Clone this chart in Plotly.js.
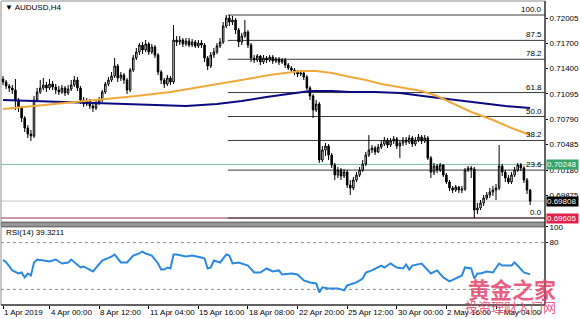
<!DOCTYPE html>
<html><head><meta charset="utf-8">
<script src="https://cdn.plot.ly/plotly-3.0.1.min.js"></script>
<style>html,body{margin:0;padding:0;background:#fff;overflow:hidden}#chart{width:580px;height:319px}</style>
</head><body><div id="chart"></div>
<script>
// ---------- DATA ----------
const symbolTitle = '\u25BC AUDUSD,H4';
const rsiTitle = 'RSI(14) 39.3211';

const open = [0.71273,0.71237,0.71189,0.71165,0.71141,0.71021,0.70925,0.70805,0.70685,0.70613,
0.70589,0.71021,0.71117,0.71165,0.71201,0.71165,0.71213,0.71177,0.71141,0.71117,
0.71165,0.71105,0.71153,0.71201,0.71261,0.71165,0.71021,0.70973,0.71009,0.70949,
0.70925,0.70985,0.71021,0.71117,0.71213,0.71261,0.71309,0.71429,0.71285,0.71321,
0.71261,0.71141,0.71381,0.71525,0.71597,0.71681,0.71621,0.71693,0.71597,0.71657,
0.71561,0.71357,0.71261,0.71213,0.71285,0.71237,0.71741,0.71717,0.71741,0.71693,
0.71729,0.71681,0.71717,0.71669,0.71705,0.71681,0.71525,0.71429,0.71561,0.71597,
0.71669,0.71717,0.71909,0.72005,0.71957,0.71981,0.71861,0.71717,0.71789,0.71837,
0.71681,0.71525,0.71501,0.71549,0.71477,0.71525,0.71501,0.71537,0.71489,0.71513,
0.71477,0.71501,0.71441,0.71405,0.71381,0.71357,0.71333,0.71345,0.71297,0.71165,
0.71069,0.70901,0.70973,0.70301,0.70421,0.70469,0.70361,0.70241,0.70121,0.70181,
0.70109,0.70157,0.70001,0.69965,0.70061,0.70121,0.70181,0.70253,0.70361,0.70421,
0.70445,0.70397,0.70457,0.70493,0.70541,0.70481,0.70529,0.70553,0.70469,0.70505,
0.70541,0.70517,0.70565,0.70493,0.70541,0.70577,0.70529,0.70565,0.70325,0.70157,
0.70229,0.70181,0.70241,0.70121,0.70037,0.69965,0.69941,0.69977,0.69941,0.69953,
0.70181,0.70205,0.70193,0.69701,0.69725,0.69785,0.69845,0.69881,0.69917,0.69941,
0.69965,0.70229,0.70157,0.70085,0.70037,0.70121,0.70181,0.70241,0.70205,0.70061,
0.69941];
const high = [0.71309,0.71261,0.71213,0.71201,0.71273,0.71045,0.70949,0.70829,0.70721,0.70661,
0.71069,0.71165,0.71261,0.71285,0.71237,0.71273,0.71249,0.71213,0.71189,0.71201,
0.71189,0.71201,0.71261,0.71309,0.71297,0.71189,0.71057,0.71045,0.71033,0.70985,
0.71021,0.71057,0.71141,0.71237,0.71297,0.71357,0.71525,0.71453,0.71357,0.71345,
0.71285,0.71405,0.71561,0.71645,0.71705,0.71717,0.71741,0.71717,0.71693,0.71681,
0.71585,0.71381,0.71285,0.71321,0.71309,0.71921,0.71789,0.71789,0.71765,0.71765,
0.71765,0.71753,0.71741,0.71741,0.71741,0.71705,0.71549,0.71597,0.71645,0.71705,
0.71765,0.71957,0.72041,0.72041,0.72029,0.72005,0.71885,0.71825,0.71981,0.71861,
0.71705,0.71561,0.71573,0.71561,0.71561,0.71549,0.71561,0.71561,0.71537,0.71537,
0.71525,0.71525,0.71465,0.71429,0.71405,0.71381,0.71381,0.71369,0.71321,0.71189,
0.71093,0.71021,0.70997,0.70469,0.70505,0.70493,0.70385,0.70265,0.70217,0.70205,
0.70193,0.70181,0.70061,0.70097,0.70157,0.70217,0.70301,0.70397,0.70601,0.70481,
0.70469,0.70493,0.70541,0.70577,0.70565,0.70565,0.70589,0.70577,0.70541,0.70577,
0.70577,0.70601,0.70589,0.70577,0.70613,0.70601,0.70601,0.70589,0.70349,0.70265,
0.70253,0.70265,0.70253,0.70145,0.70061,0.69989,0.70001,0.69989,0.69989,0.70205,
0.70229,0.70229,0.70217,0.69785,0.69821,0.69881,0.69917,0.69965,0.69989,0.70013,
0.70481,0.70253,0.70181,0.70121,0.70157,0.70217,0.70265,0.70265,0.70229,0.70085,
0.69953];
const low = [0.71201,0.71153,0.71117,0.71093,0.70901,0.70877,0.70757,0.70637,0.70565,0.70529,
0.70565,0.70997,0.71093,0.71141,0.71117,0.71141,0.71141,0.71093,0.71081,0.71093,
0.71069,0.71081,0.71129,0.71177,0.71129,0.70973,0.70937,0.70949,0.70913,0.70877,
0.70901,0.70961,0.70997,0.71093,0.71189,0.71237,0.71285,0.71237,0.71249,0.71213,
0.71093,0.71117,0.71357,0.71501,0.71561,0.71573,0.71597,0.71561,0.71573,0.71525,
0.71321,0.71213,0.71165,0.71189,0.71201,0.71213,0.71669,0.71681,0.71657,0.71669,
0.71657,0.71657,0.71645,0.71645,0.71645,0.71477,0.71381,0.71405,0.71525,0.71573,
0.71645,0.71693,0.71885,0.71909,0.71921,0.71813,0.71657,0.71681,0.71765,0.71645,
0.71477,0.71465,0.71477,0.71441,0.71453,0.71465,0.71477,0.71453,0.71465,0.71441,
0.71453,0.71405,0.71381,0.71345,0.71321,0.71297,0.71309,0.71261,0.71141,0.71021,
0.70805,0.70877,0.70265,0.70277,0.70349,0.70301,0.70205,0.70061,0.70085,0.70061,
0.70085,0.69965,0.69881,0.69941,0.70037,0.70097,0.70157,0.70229,0.70337,0.70385,
0.70361,0.70385,0.70433,0.70469,0.70445,0.70457,0.70493,0.70433,0.70325,0.70469,
0.70481,0.70493,0.70457,0.70469,0.70517,0.70493,0.70505,0.70301,0.70085,0.70121,
0.70145,0.70157,0.70097,0.70013,0.69929,0.69905,0.69917,0.69905,0.69905,0.69929,
0.70157,0.70085,0.69605,0.69653,0.69701,0.69749,0.69821,0.69845,0.69869,0.69821,
0.69941,0.70109,0.70037,0.70013,0.70013,0.70097,0.70157,0.70169,0.70025,0.69893,
0.69761];
const close = [0.71237,0.71189,0.71165,0.71141,0.71021,0.70925,0.70805,0.70685,0.70613,0.70589,
0.71021,0.71117,0.71165,0.71201,0.71165,0.71213,0.71177,0.71141,0.71117,0.71165,
0.71105,0.71153,0.71201,0.71261,0.71165,0.71021,0.70973,0.71009,0.70949,0.70925,
0.70985,0.71021,0.71117,0.71213,0.71261,0.71309,0.71429,0.71285,0.71321,0.71261,
0.71141,0.71381,0.71525,0.71597,0.71681,0.71621,0.71693,0.71597,0.71657,0.71561,
0.71357,0.71261,0.71213,0.71285,0.71237,0.71741,0.71717,0.71741,0.71693,0.71729,
0.71681,0.71717,0.71669,0.71705,0.71681,0.71525,0.71429,0.71561,0.71597,0.71669,
0.71717,0.71909,0.72005,0.71957,0.71981,0.71861,0.71717,0.71789,0.71837,0.71681,
0.71525,0.71501,0.71549,0.71477,0.71525,0.71501,0.71537,0.71489,0.71513,0.71477,
0.71501,0.71441,0.71405,0.71381,0.71357,0.71333,0.71345,0.71297,0.71165,0.71069,
0.70901,0.70973,0.70301,0.70421,0.70469,0.70361,0.70241,0.70121,0.70181,0.70109,
0.70157,0.70001,0.69965,0.70061,0.70121,0.70181,0.70253,0.70361,0.70421,0.70445,
0.70397,0.70457,0.70493,0.70541,0.70481,0.70529,0.70553,0.70469,0.70505,0.70541,
0.70517,0.70565,0.70493,0.70541,0.70577,0.70529,0.70565,0.70325,0.70157,0.70229,
0.70181,0.70241,0.70121,0.70037,0.69965,0.69941,0.69977,0.69941,0.69953,0.70181,
0.70205,0.70193,0.69701,0.69725,0.69785,0.69845,0.69881,0.69917,0.69941,0.69965,
0.70229,0.70157,0.70085,0.70037,0.70121,0.70181,0.70241,0.70205,0.70061,0.69941,
0.69808];

// moving averages (sampled bars)
const maFastBar = [0,10,20,31,43,54,64,75,86,96,101,106,112,117,122,130,135,140,144,151,158,164,170];
const maFast = [0.70913,0.70949,0.70985,0.71033,0.71069,0.71117,0.71177,0.71249,0.71321,0.71369,0.71369,0.71345,0.71297,0.71261,0.71213,0.71165,0.71129,0.71069,0.70997,0.70877,0.70781,0.70685,0.70601];
const maSlowBar = [0,10,26,43,59,69,77,85,92,99,106,112,120,128,138,146,154,162,170];
const maSlow = [0.71021,0.71009,0.70985,0.70973,0.70949,0.70973,0.71009,0.71057,0.71093,0.71129,0.71129,0.71117,0.71117,0.71105,0.71057,0.71021,0.70985,0.70949,0.70925];

// RSI(14)
const rsiBar = [0,1,3,5,6,7,8,9,10,11,13,15,17,19,21,22,25,26,29,30,32,35,36,38,40,42,43,45,46,48,50,51,52,53,54,55,56,59,61,64,65,66,67,68,70,72,73,74,76,79,81,83,85,87,89,90,93,95,97,99,101,102,103,105,108,110,111,114,116,117,119,122,123,125,127,129,130,131,132,135,137,138,140,142,144,146,148,149,151,152,153,154,156,158,160,161,164,165,167,168,170];
const rsiValue = [57.9,54.9,44.3,40.4,41.7,35.3,40.4,37.9,54.5,58.3,57.0,55.7,58.3,53.2,54.5,58.3,48.1,49.4,43.0,48.1,57.0,62.1,64.7,54.5,54.5,63.4,64.7,68.5,66.0,63.4,53.2,45.5,45.5,48.1,46.8,64.7,64.7,62.1,63.4,60.9,59.6,46.8,48.1,57.0,54.5,64.7,63.4,53.2,54.5,50.6,41.7,41.7,46.8,43.0,44.3,39.1,40.4,39.1,31.5,28.9,27.7,16.2,22.6,21.3,21.3,18.7,25.1,28.9,34.0,41.7,44.3,50.6,48.1,53.2,48.1,46.8,51.9,45.5,50.6,53.2,44.3,40.4,44.3,35.3,30.2,34.0,37.9,48.1,46.8,34.0,40.4,40.4,43.0,41.7,53.2,50.6,50.6,54.5,46.8,41.7,39.3];
const rsiLevels = [80, 20];

// Fibonacci retracement
const fibHigh = 0.72041, fibLow = 0.69605;
const fibLevels = [100, 87.5, 78.2, 61.8, 50.0, 38.2, 23.6, 0.0];
const fibStartBar = 72.5;

// horizontal price lines / right-axis marker boxes
const markerPrices = [0.70248, 0.69808, 0.69605];
const markerLabels = ['0.70248', '0.69808', '0.69605'];

// axis ticks
const priceTicks = [0.72005,0.71700,0.71400,0.71095,0.70790,0.70485,0.70180,0.69875];
const priceTickText = ['0.72005','0.71700','0.71400','0.71095','0.70790','0.70485','0.70180','0.69875'];
const timeTickBars = [0,15,31,47,63,79,95,111,127,143,159];
const timeTickText = ['1 Apr 2019','4 Apr 00:00','8 Apr 12:00','11 Apr 04:00','15 Apr 16:00','18 Apr 08:00','22 Apr 20:00','25 Apr 12:00','30 Apr 00:00','2 May 16:00','7 May 04:00'];
const rsiTicks = [100, 80];

// ---------- STYLE / LAYOUT ----------
const bars = open.map((_, i) => i);
const FONT = 'Liberation Sans, Arial, sans-serif';
const xRange = [-0.65, 174.8];
const mainDomain = [0.2730, 1];
const rsiDomain = [0, 0.2566];

const traces = [
  {type:'candlestick', x:bars, open:open, high:high, low:low, close:close, xaxis:'x', yaxis:'y',
   increasing:{line:{color:'#000000', width:1}, fillcolor:'#ffffff'},
   decreasing:{line:{color:'#000000', width:1}, fillcolor:'#000000'},
   whiskerwidth:0, hoverinfo:'skip', showlegend:false},
  {type:'scatter', mode:'lines', x:maSlowBar, y:maSlow, xaxis:'x', yaxis:'y', line:{color:'#0a0a82', width:2}, hoverinfo:'skip'},
  {type:'scatter', mode:'lines', x:maFastBar, y:maFast, xaxis:'x', yaxis:'y', line:{color:'#f2a93b', width:2}, hoverinfo:'skip'},
  {type:'scatter', mode:'lines', x:rsiBar, y:rsiValue, xaxis:'x', yaxis:'y2', line:{color:'#2b8ae0', width:2}, hoverinfo:'skip'}
];

const shapes = [];
fibLevels.forEach(l => {
  const p = fibLow + (fibHigh - fibLow) * l / 100;
  shapes.push({type:'line', xref:'x', yref:'y', x0:fibStartBar, x1:xRange[1], y0:p, y1:p, line:{color:'#3a3a3a', width:1}, layer:'below'});
});
const markerLineColors = ['#7cbf9e', '#c4c4c4', '#9c2f55'];
markerPrices.forEach((p, k) => {
  shapes.push({type:'line', xref:'paper', yref:'y', x0:0, x1:1, y0:p, y1:p, line:{color:markerLineColors[k], width:1}, layer:'below'});
});
rsiLevels.forEach(v => {
  shapes.push({type:'line', xref:'paper', yref:'y2', x0:0, x1:1, y0:v, y1:v, line:{color:'#909090', width:1, dash:'dot'}, layer:'below'});
});
shapes.push({type:'rect', xref:'paper', yref:'paper', x0:0, x1:1, y0:mainDomain[0], y1:1, line:{color:'#8c8c8c', width:1}, layer:'above'});
shapes.push({type:'rect', xref:'paper', yref:'paper', x0:0, x1:1, y0:rsiDomain[0], y1:rsiDomain[1], line:{color:'#8c8c8c', width:1}, layer:'above'});
shapes.push({type:'rect', xref:'paper', yref:'paper', x0:0, x1:1, y0:rsiDomain[1]+0.002, y1:mainDomain[0]-0.002, fillcolor:'#9a9a9a', line:{color:'#6a6a6a', width:1}, layer:'above'});
shapes.push({type:'line', xref:'paper', yref:'paper', x0:1, x1:1, y0:0, y1:1, line:{color:'#000', width:1}, layer:'above'});
shapes.push({type:'line', xref:'paper', yref:'paper', x0:0, x1:1, y0:0, y1:0, line:{color:'#000', width:1}, layer:'above'});

const annotations = [];
annotations.push({xref:'paper', yref:'paper', x:0.004, y:0.977, xanchor:'left', yanchor:'middle', text:symbolTitle, showarrow:false, font:{family:FONT, size:8, color:'#000'}});
annotations.push({xref:'paper', yref:'paper', x:0.006, y:0.237, xanchor:'left', yanchor:'middle', text:rsiTitle, showarrow:false, font:{family:FONT, size:8, color:'#000'}});
fibLevels.forEach(l => {
  const p = fibLow + (fibHigh - fibLow) * l / 100;
  annotations.push({xref:'paper', yref:'y', x:1, y:p, xanchor:'right', yanchor:'bottom', xshift:-1, yshift:-1, text:l.toFixed(1), showarrow:false, font:{family:FONT, size:8, color:'#000'}});
});
// time labels, left-aligned at their tick like the terminal does
timeTickBars.forEach((b, k) => {
  annotations.push({xref:'x', yref:'paper', x:b, y:0, xanchor:'left', yanchor:'top', xshift:-1, yshift:-1, text:timeTickText[k], showarrow:false, font:{family:FONT, size:8, color:'#000'}});
});
const markerBoxColors = ['#36a46c', '#000000', '#e0214b'];
markerPrices.forEach((p, k) => {
  annotations.push({xref:'paper', yref:'y', x:1, y:p, xanchor:'left', yanchor:'middle', xshift:1, text:markerLabels[k], showarrow:false, bgcolor:markerBoxColors[k], borderpad:0, width:31, height:9, align:'left', font:{family:FONT, size:8, color:'#ffffff'}});
});
annotations.push({xref:'paper', yref:'paper', x:0.939, y:0.056, xanchor:'center', yanchor:'middle', text:'<b>黄金之家</b>', showarrow:false, opacity:0.85, font:{family:'Noto Sans CJK SC', size:22, color:'#e4456c'}});
annotations.push({xref:'paper', yref:'paper', x:0.937, y:-0.004, xanchor:'center', yanchor:'middle', text:'投资理财入门网', showarrow:false, opacity:0.85, font:{family:'Noto Sans CJK SC', size:13, color:'#e4456c'}});

const layout = {
  width:580, height:319,
  margin:{l:1, r:35, t:1, b:14, pad:0},
  paper_bgcolor:'#ffffff', plot_bgcolor:'#ffffff',
  showlegend:false, dragmode:false,
  xaxis:{range:xRange, anchor:'y2', tickmode:'array', tickvals:timeTickBars, showticklabels:false,
         ticks:'outside', ticklen:3, tickcolor:'#000',
         showgrid:false, zeroline:false, showline:false, rangeslider:{visible:false}, fixedrange:true},
  yaxis:{domain:mainDomain, range:[0.69557, 0.72209], side:'right', tickmode:'array', tickvals:priceTicks, ticktext:priceTickText,
         ticks:'outside', ticklen:2, tickcolor:'#000', showgrid:false, zeroline:false, showline:false,
         tickfont:{family:FONT, size:8, color:'#000'}, fixedrange:true},
  yaxis2:{domain:rsiDomain, range:[0, 100], side:'right', anchor:'x', tickmode:'array', tickvals:rsiTicks, ticktext:rsiTicks.map(String),
         ticks:'outside', ticklen:2, tickcolor:'#000', showgrid:false, zeroline:false, showline:false,
         tickfont:{family:FONT, size:8, color:'#000'}, fixedrange:true},
  shapes:shapes, annotations:annotations
};

Plotly.newPlot('chart', traces, layout, {staticPlot:true, displayModeBar:false});
</script>
</body></html>
